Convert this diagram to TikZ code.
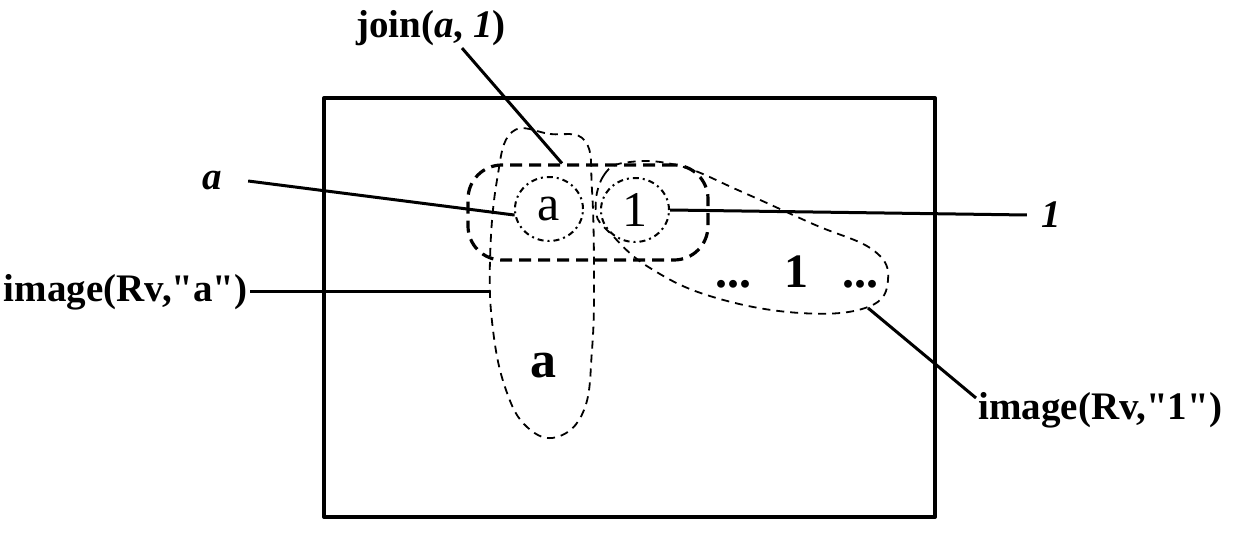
\documentclass[tikz,border=0pt]{standalone}
\usepackage{fontspec}
\setmainfont{Liberation Serif}
\usetikzlibrary{shapes.geometric}

\begin{document}
\begin{tikzpicture}[x=0.5pt,y=-0.5pt,line join=round,
  lbl/.style={font=\fontsize{19.5}{23}\selectfont\bfseries,inner sep=1pt},
  lead/.style={line width=1.5pt},
  member/.style={ellipse,draw,line width=1pt,dash dot,minimum width=34pt,minimum height=32pt,inner sep=0pt,font=\fontsize{25}{28}\selectfont},
  imgline/.style={line width=0.9pt,dash pattern=on 4pt off 3pt}]
  \useasboundingbox (0,0) rectangle (1244,534);
  % frame
  \draw[line width=2pt] (324,98) rectangle (935,517);
  % join box
  \node[draw,rounded corners=17pt,line width=1.6pt,dash pattern=on 6pt off 3.5pt,
    minimum width=120pt,minimum height=47.5pt] (joinbox) at (588,212.5) {};
  % image(Rv,"a")
  \draw[imgline] plot[smooth cycle,tension=0.7] coordinates {(512,132) (550,134) (585,141)
    (592,190) (594,280) (592,350) (584,410) (557,437) (527,427) (506,390) (493,330) (490,260) (497,180)};
  \coordinate (tallleft) at (490,292);
  \node[font=\fontsize{26}{28}\selectfont\bfseries,anchor=base] (tallval) at (543,378) {a};
  % image(Rv,"1")
  \draw[imgline] plot[smooth cycle,tension=0.7] coordinates {(596,212) (604,175) (630,162) (680,166)
    (740,191) (813,224) (873,250) (888,280) (868,307) (800,313) (713,297) (650,268) (612,235)};
  \coordinate (looptip) at (868,308);
  \node[font=\fontsize{24}{27}\selectfont\bfseries,anchor=base] (loopval) at (797,288)
    {...\hspace{0.7em}1\hspace{0.7em}...};
  % the two members
  \node[member] (ca) at (549,209) {a};
  \node[member] (c1) at (635,210) {1};
  % labels
  \node[lbl] (joinlbl) at (431,28) {join(\textit{a}, \textit{1})};
  \node[lbl] (albl) at (212,181) {\textit{a}};
  \node[lbl] (onelbl) at (1051,215) {\textit{1}};
  \node[lbl,anchor=east] (imgalbl) at (250,292) {image(Rv,\textquotedbl a\textquotedbl)};
  \node[lbl,anchor=west] (imgonelbl) at (976,410) {image(Rv,\textquotedbl 1\textquotedbl)};
  % leaders
  \draw[lead] ([xshift=15.5pt]joinlbl.south) -- ([xshift=-13pt]joinbox.north);
  \draw[lead] ([xshift=12pt]albl.east) -- (ca.190);
  \draw[lead] (c1.east) -- ([xshift=-6pt]onelbl.west);
  \draw[lead] (imgalbl.east) -- (tallleft);
  \draw[lead] (looptip) -- ([yshift=6pt]imgonelbl.west);
\end{tikzpicture}
\end{document}
